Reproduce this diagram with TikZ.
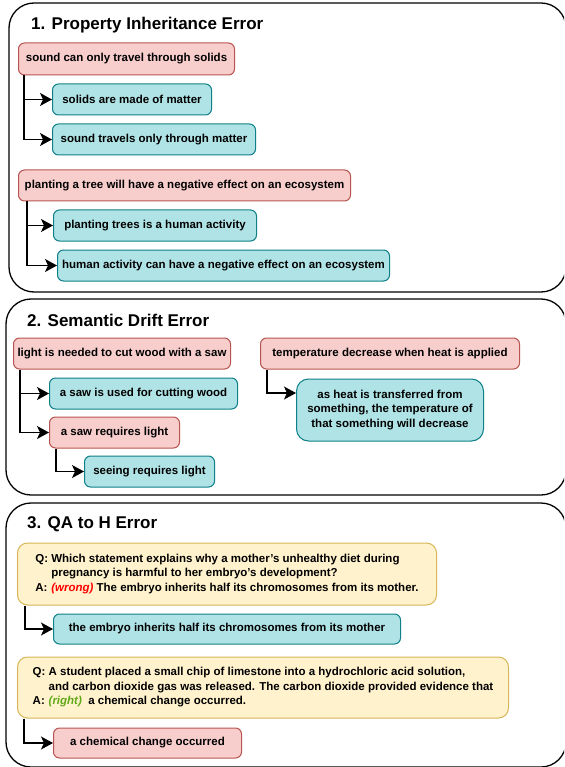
\documentclass[tikz,border=0pt]{standalone}
\usepackage{fontspec}
\setmainfont{Liberation Sans}
\usetikzlibrary{arrows.meta, positioning}

\definecolor{pinkfill}{HTML}{F8CECC}
\definecolor{pinkline}{HTML}{B85450}
\definecolor{tealfill}{HTML}{B0E3E6}
\definecolor{tealline}{HTML}{0E8088}
\definecolor{yellowfill}{HTML}{FFF2CC}
\definecolor{yellowline}{HTML}{D6B656}
\definecolor{wrongred}{HTML}{FF0000}
\definecolor{rightgreen}{HTML}{60A917}

\begin{document}
\begin{tikzpicture}[x=1pt, y=-1pt,
		panel/.style={draw, line width=1.3pt, rounded corners=25pt},
		heading/.style={anchor=west, inner sep=0pt, font=\fontsize{17}{20}\selectfont\bfseries},
		box/.style={draw, line width=1pt, rounded corners=6pt, anchor=west, align=center, inner sep=0pt, font=\fontsize{11.5}{14.5}\selectfont\bfseries},
		claim/.style={box, fill=pinkfill, draw=pinkline},
		fact/.style={box, fill=tealfill, draw=tealline},
		qa/.style={box, fill=yellowfill, draw=yellowline},
		link/.style={line width=1.3pt, arrows={-Stealth[length=12pt, width=13pt, inset=3pt]}}]
		\path[use as bounding box] (0,0) rectangle (564,767);
		\clip (0,0) rectangle (564,767);

		% panels
		\draw[panel] (9,3) rectangle (566,292);
		\draw[panel] (6,299) rectangle (566,495);
		\draw[panel] (6,503) rectangle (566,767);

		% 1
		\node[heading] (h1) at (31,25) {1. Property Inheritance Error};
		\node[claim, minimum width=216pt, minimum height=32pt] (snd) at (18,59) {sound can only travel through solids};
		\node[fact, minimum width=159pt, minimum height=31pt] (sol) at (52,99.5) {solids are made of matter};
		\node[fact, minimum width=203pt, minimum height=31pt] (trv) at (52,139.5) {sound travels only through matter};
		\node[claim, minimum width=332pt, minimum height=31pt] (tree) at (18,185.5) {planting a tree will have a negative effect on an ecosystem};
		\node[fact, minimum width=203pt, minimum height=31pt] (act) at (53,225.5) {planting trees is a human activity};
		\node[fact, minimum width=332pt, minimum height=31pt] (eco) at (57,265.5) {human activity can have a negative effect on an ecosystem};
		\draw[link] ([xshift=6pt]snd.south west) |- (sol.west);
		\draw[link] ([xshift=6pt]snd.south west) |- (trv.west);
		\draw[link] ([xshift=9pt]tree.south west) |- (act.west);
		\draw[link] ([xshift=9pt]tree.south west) |- (eco.west);

		% 2
		\node[heading] (h2) at (27,320) {2. Semantic Drift Error};
		\node[claim, minimum width=217pt, minimum height=31pt] (light) at (13,353.5) {light is needed to cut wood with a saw};
		\node[fact, minimum width=188pt, minimum height=31pt] (saw) at (49,393.5) {a saw is used for cutting wood};
		\node[claim, minimum width=130pt, minimum height=31pt] (req) at (49,432.5) {a saw requires light};
		\node[fact, minimum width=130pt, minimum height=31pt] (see) at (84,471.5) {seeing requires light};
		\node[claim, minimum width=259pt, minimum height=31pt] (temp) at (260,353.5) {temperature decrease when heat is applied};
		\node[fact, minimum width=187pt, minimum height=62pt, rounded corners=12pt] (heat) at (296,410) {as heat is transferred from\\something, the temperature of\\that something will decrease};
		\draw[link] ([xshift=7pt]light.south west) |- (saw.west);
		\draw[link] ([xshift=7pt]light.south west) |- (req.west);
		\draw[link] ([xshift=7pt]req.south west) |- (see.west);
		\draw[link] ([xshift=7pt]temp.south west) |- ([yshift=17pt]heat.west);

		% 3
		\node[heading] (h3) at (27,524) {3. QA to H Error};
		\node[qa, minimum width=419pt, minimum height=62pt, rounded corners=10pt] (q1) at (17,574) {\begin{tabular}{@{}l@{ }l@{}}
			Q: & Which statement explains why a mother's unhealthy diet during\\
			& pregnancy is harmful to her embryo's development?\\
			A: & {\color{wrongred}\itshape (wrong)} The embryo inherits half its chromosomes from its mother.
		\end{tabular}};
		\node[fact, minimum width=347pt, minimum height=30pt] (emb) at (53,629) {the embryo inherits half its chromosomes from its mother};
		\node[qa, minimum width=491pt, minimum height=61pt, rounded corners=10pt] (q2) at (17,687.5) {\begin{tabular}{@{}l@{ }l@{}}
			Q: & A student placed a small chip of limestone into a hydrochloric acid solution,\\
			& and carbon dioxide gas was released. The carbon dioxide provided evidence that\\
			A: & {\color{rightgreen}\itshape (right)}\ \ a chemical change occurred.
		\end{tabular}};
		\node[claim, minimum width=188pt, minimum height=30pt] (chem) at (53,743) {a chemical change occurred};
		\draw[link] ([xshift=8pt]q1.south west) |- (emb.west);
		\draw[link] ([xshift=7pt]q2.south west) |- (chem.west);
	\end{tikzpicture}
\end{document}
